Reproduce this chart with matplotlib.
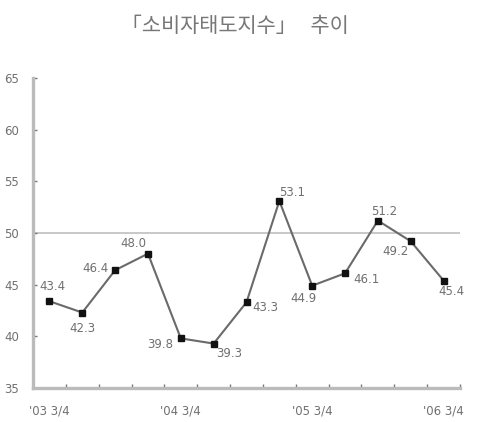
import matplotlib
matplotlib.use("Agg")
import matplotlib.pyplot as plt

plt.rcParams["font.family"] = ["Noto Sans CJK KR", "DejaVu Sans"]

# quarterly consumer sentiment index
quarters = ["'03 3/4", "'03 4/4", "'04 1/4", "'04 2/4", "'04 3/4", "'04 4/4", "'05 1/4",
            "'05 2/4", "'05 3/4", "'05 4/4", "'06 1/4", "'06 2/4", "'06 3/4"]
values = [43.4, 42.3, 46.4, 48.0, 39.8, 39.3, 43.3, 53.1, 44.9, 46.1, 51.2, 49.2, 45.4]
shown_ticks = ["'03 3/4", "'04 3/4", "'05 3/4", "'06 3/4"]
yticks = [35, 40, 45, 50, 55, 60, 65]
baseline = 50

# label offsets in pixels (dx, dy; dy up positive)
offsets = [(3, 15), (0, -16), (-20, 2), (-15, 10), (-21, -6), (16, -10), (19, -5),
           (13, 8), (-9, -13), (21, -6), (6, 9), (-15, -10), (8, -11)]

NUM_FONT = ["DejaVu Sans"]
GREY = "#707070"

fig = plt.figure(figsize=(4.8, 4.22), dpi=100)
ax = fig.add_axes([33 / 480, 34 / 422, 427 / 480, 310 / 422])

x = list(range(len(values)))
ax.axhline(baseline, color="#c8c8c8", lw=1.4, zorder=1)
ax.plot(x, values, color="#6a6a6a", lw=1.5, marker="s", ms=3.8,
        mfc="#111111", mec="#111111", zorder=3)
for xi, v, (dx, dy) in zip(x, values, offsets):
    ax.annotate(f"{v:.1f}", (xi, v), xytext=(dx, dy), textcoords="offset pixels",
                ha="center", va="center", fontsize=8.5, color=GREY, family=NUM_FONT)

ax.set_xlim(-0.5, len(values) - 0.5)
ax.set_ylim(35, 65)
ax.set_xticks([i - 0.5 for i in range(len(values) + 1)])
ax.set_xticklabels([])
ax.set_xticks([quarters.index(q) for q in shown_ticks], minor=True)
ax.set_xticklabels(shown_ticks, minor=True, fontsize=8.5, color=GREY, family=NUM_FONT)
ax.tick_params(axis="x", which="major", direction="in", length=3, width=1, color="#777777")
ax.tick_params(axis="x", which="minor", length=0, pad=12)
ax.set_yticks(yticks)
ax.set_yticklabels([str(t) for t in yticks], fontsize=8.5, color=GREY, family=NUM_FONT)
ax.tick_params(axis="y", direction="in", length=3, width=1, color="#777777", pad=10)

for s in ["top", "right"]:
    ax.spines[s].set_visible(False)
for s in ["left", "bottom"]:
    ax.spines[s].set_color("#bbbbbb")
    ax.spines[s].set_linewidth(2.4)

fig.text(0.49, 1 - 26 / 422, "「소비자태도지수」   추이", ha="center", va="center",
         fontsize=15, color="#777777")

fig.savefig("out.png", dpi=100)
